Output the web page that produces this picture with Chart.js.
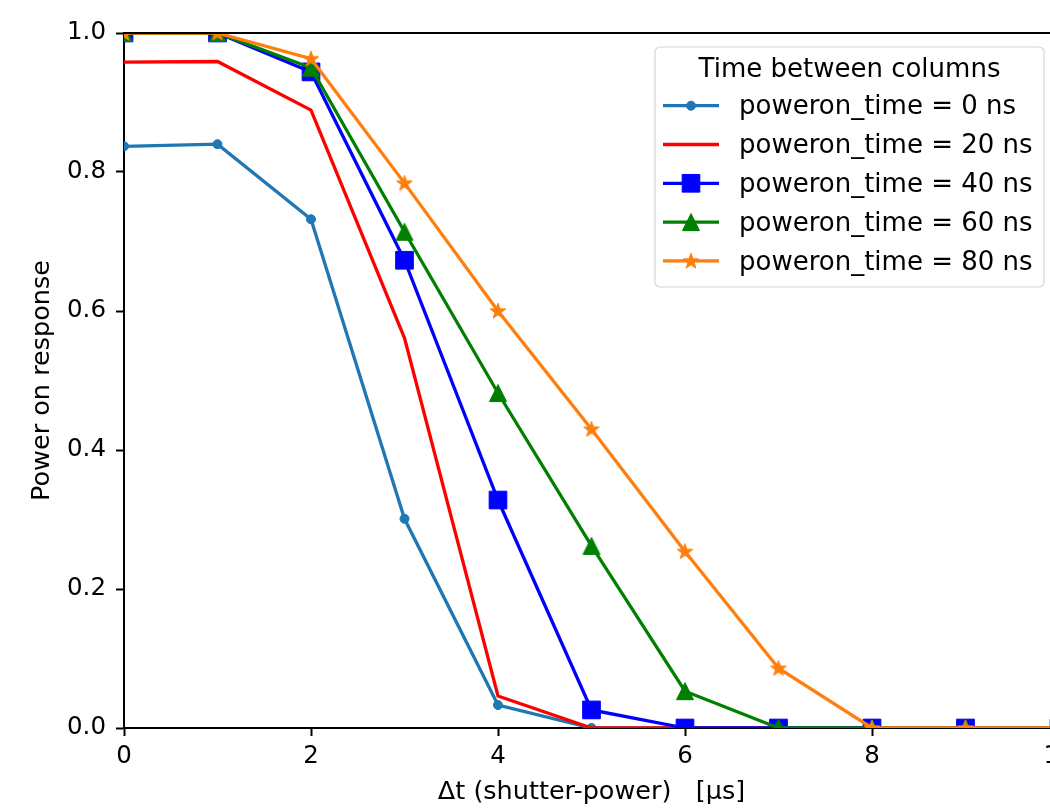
<!DOCTYPE html>
<html><head><meta charset="utf-8">
<script src="https://cdn.jsdelivr.net/npm/chart.js@4.4.1/dist/chart.umd.min.js"></script>
<style>
html,body{margin:0;padding:0;overflow:hidden;background:#fff;width:1050px;height:809px}
#wrap{position:relative;width:1100px;height:809px}
canvas{display:block}
</style></head><body>
<div id="wrap"><canvas id="c" width="1100" height="809"></canvas></div>
<script>
// ---- data ----
const xValues = [0, 1, 2, 3, 4, 5, 6, 7, 8, 9, 10];
const seriesLabels = ['poweron_time = 0 ns', 'poweron_time = 20 ns', 'poweron_time = 40 ns', 'poweron_time = 60 ns', 'poweron_time = 80 ns'];
const resp0ns  = [0.837, 0.840, 0.732, 0.301, 0.033, 0.0, 0.0, 0.0, 0.0, 0.0, 0.0];
const resp20ns = [0.958, 0.959, 0.889, 0.561, 0.046, 0.0, 0.0, 0.0, 0.0, 0.0, 0.0];
const resp40ns = [1.0, 1.0, 0.944, 0.673, 0.328, 0.026, 0.0, 0.0, 0.0, 0.0, 0.0];
const resp60ns = [1.0, 1.0, 0.950, 0.714, 0.482, 0.262, 0.053, 0.0, 0.0, 0.0, 0.0];
const resp80ns = [1.0, 1.0, 0.963, 0.784, 0.600, 0.430, 0.254, 0.086, 0.0, 0.0, 0.0];
const xTickValues = [0, 2, 4, 6, 8, 10];
const yTickValues = [0.0, 0.2, 0.4, 0.6, 0.8, 1.0];
const legendTitle = 'Time between columns';
const xTitle = 'Δt (shutter-power)   [μs]';
const yTitle = 'Power on response';

// ---- marker images ----
function makeStar(color) {
  const c = document.createElement('canvas'); c.width = 20; c.height = 20;
  const g = c.getContext('2d');
  const cx = 10, cy = 10.5, R = 8.2, r = 3.3;
  g.beginPath();
  for (let i = 0; i < 10; i++) {
    const a = -Math.PI / 2 + i * Math.PI / 5;
    const rr = i % 2 === 0 ? R : r;
    const px = cx + rr * Math.cos(a), py = cy + rr * Math.sin(a);
    if (i === 0) g.moveTo(px, py); else g.lineTo(px, py);
  }
  g.closePath(); g.fillStyle = color; g.fill(); g.lineWidth = 1; g.strokeStyle = color; g.stroke();
  return c;
}
function makeTriangle(color) {
  const c = document.createElement('canvas'); c.width = 20; c.height = 20;
  const g = c.getContext('2d');
  g.beginPath(); g.moveTo(10, 1.5); g.lineTo(1.5, 18.5); g.lineTo(18.5, 18.5); g.closePath();
  g.fillStyle = color; g.fill(); g.lineWidth = 1; g.strokeStyle = color; g.stroke();
  return c;
}
const cBlue0 = '#1f77b4', cRed = '#ff0000', cBlue = '#0000ff', cGreen = '#008000', cOrange = '#ff7f0e';
const starImg = makeStar(cOrange);
const triImg = makeTriangle(cGreen);

const seriesValues = [resp0ns, resp20ns, resp40ns, resp60ns, resp80ns];
const seriesColors = [cBlue0, cRed, cBlue, cGreen, cOrange];
const seriesStyles = ['circle', 'circle', 'rect', triImg, starImg];
const seriesRadius = [4.5, 0, 12.5, 10, 10];

const datasets = seriesValues.map((vals, i) => ({
  label: seriesLabels[i],
  data: xValues.map((x, j) => ({x: x, y: vals[j]})),
  borderColor: seriesColors[i],
  backgroundColor: seriesColors[i],
  pointBackgroundColor: seriesColors[i],
  pointBorderColor: seriesColors[i],
  pointBorderWidth: 1,
  pointStyle: seriesStyles[i],
  pointRadius: seriesRadius[i],
  pointHoverRadius: seriesRadius[i],
  borderWidth: 3.3,
  tension: 0,
  fill: false,
  clip: 0,
  order: 5 - i
}));

const FONT = 'DejaVu Sans';
Chart.defaults.font.family = FONT;
Chart.defaults.color = '#000';

const framePlugin = {
  id: 'frame',
  afterDraw(chart) {
    const ctx = chart.ctx, ca = chart.chartArea;
    ctx.save();
    ctx.strokeStyle = '#000'; ctx.lineWidth = 2;
    ctx.beginPath();
    ctx.moveTo(ca.left - 1, ca.top); ctx.lineTo(ca.right + 1, ca.top);
    ctx.moveTo(ca.right, ca.top); ctx.lineTo(ca.right, ca.bottom);
    ctx.stroke();
    // legend
    const bx = ca.right - 404, by = ca.top + 14, bw = 389, bh = 240, rad = 5;
    ctx.globalAlpha = 0.8;
    ctx.fillStyle = '#fff';
    ctx.beginPath(); ctx.roundRect(bx, by, bw, bh, rad); ctx.fill();
    ctx.globalAlpha = 1;
    ctx.strokeStyle = '#d5d5d5'; ctx.lineWidth = 1.2;
    ctx.beginPath(); ctx.roundRect(bx, by, bw, bh, rad); ctx.stroke();
    ctx.fillStyle = '#000';
    ctx.font = '26px "' + FONT + '"';
    ctx.textAlign = 'center'; ctx.textBaseline = 'alphabetic';
    ctx.fillText(legendTitle, bx + bw / 2, ca.top + 44);
    ctx.textAlign = 'left';
    chart.data.datasets.forEach((ds, i) => {
      const yy = ca.top + 72.7 + i * 38.8;
      ctx.strokeStyle = ds.borderColor; ctx.lineWidth = 3.3;
      ctx.beginPath(); ctx.moveTo(bx + 8, yy); ctx.lineTo(bx + 64, yy); ctx.stroke();
      if (ds.pointRadius > 0) {
        ctx.fillStyle = ds.pointBackgroundColor; ctx.strokeStyle = ds.pointBorderColor;
        ctx.lineWidth = 1;
        Chart.helpers.drawPoint(ctx, {pointStyle: ds.pointStyle, radius: ds.pointRadius, rotation: 0, borderWidth: 1}, bx + 36, yy);
      }
      ctx.fillStyle = '#000';
      ctx.fillText(ds.label, bx + 84, yy + 8.6);
    });
    ctx.restore();
  }
};

new Chart(document.getElementById('c'), {
  type: 'line',
  data: {datasets: datasets},
  plugins: [framePlugin],
  options: {
    responsive: false,
    animation: false,
    devicePixelRatio: 1,
    layout: {padding: {top: 33, right: 41, left: 0, bottom: 0}},
    plugins: {legend: {display: false}, tooltip: {enabled: false}, title: {display: false}},
    scales: {
      x: {
        type: 'linear', min: 0, max: 10,
        afterBuildTicks: s => { s.ticks = xTickValues.map(v => ({value: v})); },
        afterFit: s => { s.height = 81; s.paddingLeft = 0; s.paddingRight = 0; },
        ticks: {font: {size: 24.5}, color: '#000', padding: 6, maxRotation: 0, autoSkip: false, callback: v => String(v)},
        grid: {drawOnChartArea: false, drawTicks: true, tickLength: 8, tickWidth: 2, tickColor: '#000', color: '#000'},
        border: {display: true, color: '#000', width: 2},
        title: {display: true, text: xTitle, font: {size: 25.5}, color: '#000', padding: {top: 0, bottom: 1}}
      },
      y: {
        type: 'linear', min: 0, max: 1,
        afterBuildTicks: s => { s.ticks = yTickValues.map(v => ({value: v})); },
        afterFit: s => { s.width = 124; s.paddingTop = 0; s.paddingBottom = 0; },
        ticks: {font: {size: 24.5}, color: '#000', padding: 10, autoSkip: false, callback: v => Number(v).toFixed(1)},
        grid: {drawOnChartArea: false, drawTicks: true, tickLength: 8, tickWidth: 2, tickColor: '#000', color: '#000'},
        border: {display: true, color: '#000', width: 2},
        title: {display: true, text: yTitle, font: {size: 25.5}, color: '#000', padding: {top: 27, bottom: 0}}
      }
    }
  }
});
</script>
</body></html>
